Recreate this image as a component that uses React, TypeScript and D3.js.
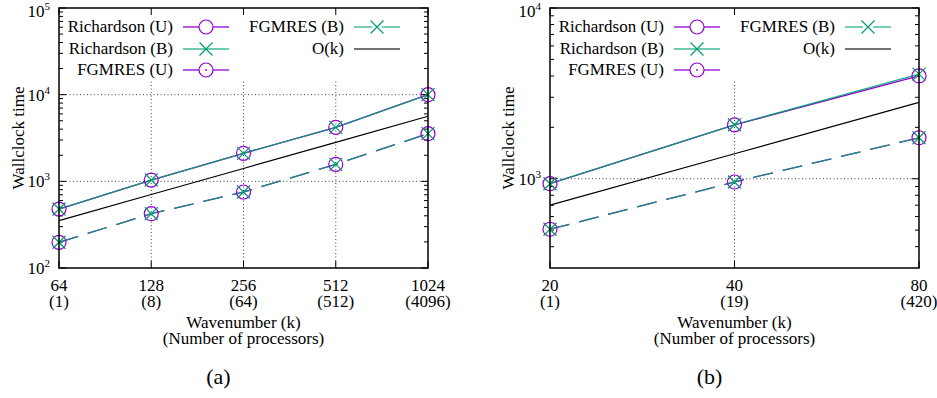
import React from "react";
import * as d3 from "d3";

// ---------- Data ----------
// Panel (a)
const kA = [64, 128, 256, 512, 1024];
const procA = ["(1)", "(8)", "(64)", "(512)", "(4096)"];
const richUA = [479, 1035, 2105, 4200, 10000];
const richBA = [479, 1035, 2105, 4200, 10000];
const fgmUA = [198, 423, 753, 1572, 3545];
const fgmBA = [198, 423, 753, 1572, 3545];
const okA = [352, 704, 1408, 2816, 5632];

// Panel (b)
const kB = [20, 40, 80];
const procB = ["(1)", "(19)", "(420)"];
const richUB = [935, 2070, 4000];
const richBB = [935, 2070, 4100];
const fgmUB = [506, 957, 1738];
const fgmBB = [506, 957, 1738];
const okB = [700, 1400, 2800];

const legendLabels = ["Richardson (U)", "Richardson (B)", "FGMRES (U)", "FGMRES (B)", "O(k)"];

const PURPLE = "#9400d3";
const GREEN = "#009e73";
const FONT = "'Liberation Serif', 'DejaVu Serif', serif";
const FS = 17;

type Geo = {
  left: number; right: number; top: number; bottom: number;
  xDomain: [number, number]; yDomain: [number, number];
  majorY: number[]; minorY: number[];
  legCol1: number; legCol2: number;
  yLabelX: number; caption: string;
};

function Panel({ g, ks, procs, rU, rB, fU, fB, ok }: {
  g: Geo; ks: number[]; procs: string[]; rU: number[]; rB: number[]; fU: number[]; fB: number[]; ok: number[];
}) {
  const x = d3.scaleLog().base(2).domain(g.xDomain).range([g.left, g.right]);
  const y = d3.scaleLog().domain(g.yDomain).range([g.bottom, g.top]);
  const line = d3.line<number>().x((_, i) => x(ks[i])).y((d) => y(d));
  const legBottom = 80;
  const cx = (g.left + g.right) / 2;

  const circle = (px: number, py: number, key: string) => (
    <circle key={key} cx={px} cy={py} r={7} fill="none" stroke={PURPLE} strokeWidth={1.2} />
  );
  const cross = (px: number, py: number, key: string) => (
    <path key={key} d={`M${px - 6.5},${py - 6.5}L${px + 6.5},${py + 6.5}M${px - 6.5},${py + 6.5}L${px + 6.5},${py - 6.5}`} stroke={GREEN} strokeWidth={1.2} fill="none" />
  );

  const innerMajorX = ks.filter((k) => k !== g.xDomain[0] && k !== g.xDomain[1]);
  const innerMajorY = g.majorY.filter((v) => v !== g.yDomain[0] && v !== g.yDomain[1]);

  const rows = [32, 54, 75];
  const legendEntries = [
    { col: 0, row: 0, label: legendLabels[0] },
    { col: 0, row: 1, label: legendLabels[1] },
    { col: 0, row: 2, label: legendLabels[2] },
    { col: 1, row: 0, label: legendLabels[3] },
    { col: 1, row: 1, label: legendLabels[4] },
  ];

  return (
    <g>
      {/* grid */}
      {innerMajorX.map((k) => (
        <line key={"gx" + k} x1={x(k)} x2={x(k)} y1={g.bottom} y2={legBottom} stroke="#444" strokeWidth={1} strokeDasharray="1,2.5" />
      ))}
      {innerMajorY.map((v) => (
        <line key={"gy" + v} x1={g.left} x2={g.right} y1={y(v)} y2={y(v)} stroke="#444" strokeWidth={1} strokeDasharray="1,2.5" />
      ))}

      {/* ticks */}
      {g.majorY.map((v) => (
        <g key={"my" + v}>
          <line x1={g.left} x2={g.left + 7} y1={y(v)} y2={y(v)} stroke="#000" />
          <line x1={g.right} x2={g.right - 7} y1={y(v)} y2={y(v)} stroke="#000" />
        </g>
      ))}
      {g.minorY.map((v) => (
        <g key={"mny" + v}>
          <line x1={g.left} x2={g.left + 4} y1={y(v)} y2={y(v)} stroke="#000" />
          <line x1={g.right} x2={g.right - 4} y1={y(v)} y2={y(v)} stroke="#000" />
        </g>
      ))}
      {ks.map((k) => (
        <g key={"tx" + k}>
          <line x1={x(k)} x2={x(k)} y1={g.bottom} y2={g.bottom - 7} stroke="#000" />
          <line x1={x(k)} x2={x(k)} y1={g.top} y2={g.top + 7} stroke="#000" />
        </g>
      ))}

      {/* data lines */}
      <path d={line(ok) || ""} fill="none" stroke="#000" strokeWidth={1.2} />
      <path d={line(rU) || ""} fill="none" stroke={PURPLE} strokeWidth={1.3} />
      <path d={line(rB) || ""} fill="none" stroke={GREEN} strokeOpacity={0.88} strokeWidth={1.3} />
      <path d={line(fU) || ""} fill="none" stroke={PURPLE} strokeWidth={1.3} strokeDasharray="20,10" />
      <path d={line(fB) || ""} fill="none" stroke={GREEN} strokeOpacity={0.88} strokeWidth={1.3} strokeDasharray="20,10" />
      {rU.map((v, i) => circle(x(ks[i]), y(v), "rc" + i))}
      {rB.map((v, i) => cross(x(ks[i]), y(v), "rx" + i))}
      {fU.map((v, i) => circle(x(ks[i]), y(v), "fc" + i))}
      {fB.map((v, i) => cross(x(ks[i]), y(v), "fx" + i))}

      {/* legend */}
      {legendEntries.map((e, i) => {
        const tx = e.col === 0 ? g.legCol1 : g.legCol2;
        const yy = rows[e.row];
        const sy = yy - 5;
        const x1 = tx + 10;
        const x2 = tx + 56;
        const mx = (x1 + x2) / 2;
        let sample: React.ReactNode = null;
        if (i === 0 || i === 2) {
          sample = (
            <g>
              <line x1={x1} x2={mx - 7} y1={sy} y2={sy} stroke={PURPLE} strokeWidth={1.3} />
              <line x1={mx + 7} x2={x2} y1={sy} y2={sy} stroke={PURPLE} strokeWidth={1.3} />
              {circle(mx, sy, "lc")}
              {i === 2 && <circle cx={mx} cy={sy} r={0.9} fill={PURPLE} />}
            </g>
          );
        } else if (i === 1) {
          sample = (
            <g>
              <line x1={x1} x2={x2} y1={sy} y2={sy} stroke={GREEN} strokeOpacity={0.75} strokeWidth={1.6} />
              {cross(mx, sy, "lx")}
            </g>
          );
        } else if (i === 3) {
          sample = (
            <g>
              <line x1={x1} x2={mx - 5} y1={sy} y2={sy} stroke={GREEN} strokeOpacity={0.8} strokeWidth={1.3} />
              <line x1={mx + 5} x2={x2} y1={sy} y2={sy} stroke={GREEN} strokeOpacity={0.8} strokeWidth={1.3} />
              {cross(mx, sy, "lx2")}
            </g>
          );
        } else {
          sample = <line x1={x1} x2={x2} y1={sy} y2={sy} stroke="#444" strokeWidth={1.5} />;
        }
        return (
          <g key={"leg" + i}>
            <text x={tx} y={yy} textAnchor="end" fontSize={FS}>{e.label}</text>
            {sample}
          </g>
        );
      })}

      {/* border */}
      <rect x={g.left} y={g.top} width={g.right - g.left} height={g.bottom - g.top} fill="none" stroke="#000" strokeWidth={1.5} />

      {/* y tick labels */}
      {g.majorY.map((v) => (
        <text key={"yl" + v} x={g.left - 9} y={Math.max(y(v) + 6, 17)} textAnchor="end" fontSize={FS}>
          10<tspan dy={-7} fontSize={11}>{Math.round(Math.log10(v))}</tspan>
        </text>
      ))}
      {/* x tick labels */}
      {ks.map((k, i) => (
        <g key={"xl" + k}>
          <text x={x(k)} y={291} textAnchor="middle" fontSize={FS}>{k}</text>
          <text x={x(k)} y={307} textAnchor="middle" fontSize={FS}>{procs[i]}</text>
        </g>
      ))}
      <text x={cx} y={328} textAnchor="middle" fontSize={FS}>Wavenumber (k)</text>
      <text x={cx} y={344} textAnchor="middle" fontSize={FS}>(Number of processors)</text>
      <text transform={`translate(${g.yLabelX},${(g.top + g.bottom) / 2}) rotate(-90)`} textAnchor="middle" fontSize={FS}>Wallclock time</text>
      <text x={cx - 25} y={384} textAnchor="middle" fontSize={22}>{g.caption}</text>
    </g>
  );
}

const geoA: Geo = {
  left: 59, right: 428, top: 8, bottom: 268,
  xDomain: [64, 1024], yDomain: [100, 100000],
  majorY: [100, 1000, 10000, 100000],
  minorY: [200, 300, 400, 500, 600, 700, 800, 900, 2000, 3000, 4000, 5000, 6000, 7000, 8000, 9000, 20000, 30000, 40000, 50000, 60000, 70000, 80000, 90000],
  legCol1: 173, legCol2: 344, yLabelX: 24, caption: "(a)",
};
const geoB: Geo = {
  left: 550, right: 919, top: 8, bottom: 268,
  xDomain: [20, 80], yDomain: [300, 10000],
  majorY: [1000, 10000],
  minorY: [400, 500, 600, 700, 800, 900, 2000, 3000, 4000, 5000, 6000, 7000, 8000, 9000],
  legCol1: 664, legCol2: 835, yLabelX: 514, caption: "(b)",
};

export default function App() {
  return (
    <svg width={937} height={398} style={{ position: "absolute", left: 0, top: 0, background: "#fff" }} fontFamily={FONT}>
      <rect x={0} y={0} width={937} height={398} fill="#fff" />
      <Panel g={geoA} ks={kA} procs={procA} rU={richUA} rB={richBA} fU={fgmUA} fB={fgmBA} ok={okA} />
      <Panel g={geoB} ks={kB} procs={procB} rU={richUB} rB={richBB} fU={fgmUB} fB={fgmBB} ok={okB} />
    </svg>
  );
}
